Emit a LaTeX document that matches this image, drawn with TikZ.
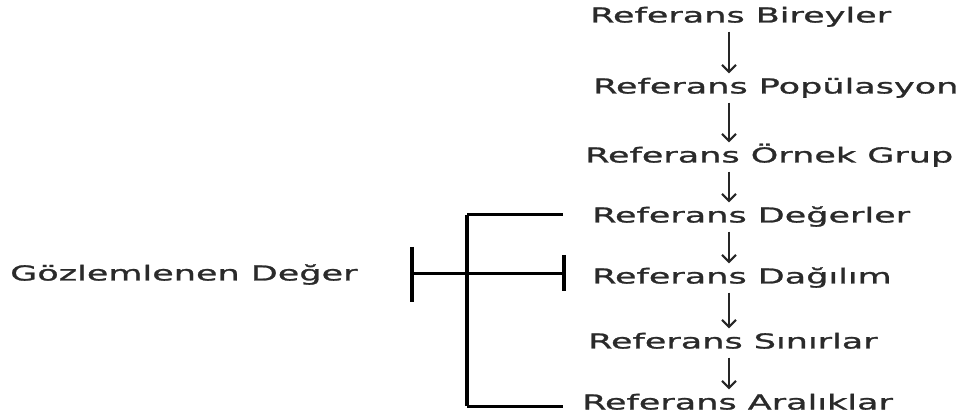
\documentclass[tikz,border=0pt]{standalone}
\usepackage{fontspec}
\setmainfont{DejaVu Sans}[FakeStretch=1.7,FakeBold=1.2]
\usetikzlibrary{arrows.meta}
\definecolor{txt}{HTML}{2A2A2A}
\tikzset{
  lbl/.style={anchor=west,inner sep=0pt,text height=15pt,text depth=0pt,text=txt,
    font=\fontsize{20.6}{24}\selectfont},
  flow/.style={line width=1.9pt,draw=black!85,-{Straight Barb[length=7pt,width=14pt,line width=2pt]},
    shorten <=9pt,shorten >=5pt},
  bar/.style={line width=3.6pt},
  arm/.style={line width=3pt},
}
\begin{document}
\begin{tikzpicture}[x=1pt,y=-1pt]
\useasboundingbox (0,0) rectangle (971,419);
\coordinate (col) at (729,0);
\node[lbl] (n1) at (590,15) {Referans Bireyler};
\node[lbl] (n2) at (593,86) {Referans Popülasyon};
\node[lbl] (n3) at (585,155) {Referans Örnek Grup};
\node[lbl] (n4) at (592,215) {Referans Değerler};
\node[lbl] (n5) at (592,276) {Referans Dağılım};
\node[lbl] (n6) at (588,341) {Referans Sınırlar};
\node[lbl] (n7) at (582,402) {Referans Aralıklar};
\node[lbl] (obs) at (10,273) {Gözlemlenen Değer};
\foreach \a/\b in {n1/n2,n2/n3,n3/n4,n4/n5,n5/n6,n6/n7}
  \draw[flow] (\a.south -| col) -- (\b.north -| col);
% bracket
\coordinate (vt) at (467,215);
\coordinate (vb) at (467,406);
\coordinate (ht) at (563,215);
\coordinate (hb) at (563,406);
\coordinate (ml) at (412,274);
\coordinate (mr) at (564,274);
\coordinate (lt1) at (412,247);
\coordinate (lt2) at (412,302);
\coordinate (rt1) at (564,255);
\coordinate (rt2) at (564,291);
\draw[bar] (vt) -- (vb);
\draw[arm] (vt) -- (ht);
\draw[arm] (vb) -- (hb);
\draw[arm] (ml) -- (mr);
\draw[bar] (lt1) -- (lt2);
\draw[bar] (rt1) -- (rt2);
\end{tikzpicture}
\end{document}
